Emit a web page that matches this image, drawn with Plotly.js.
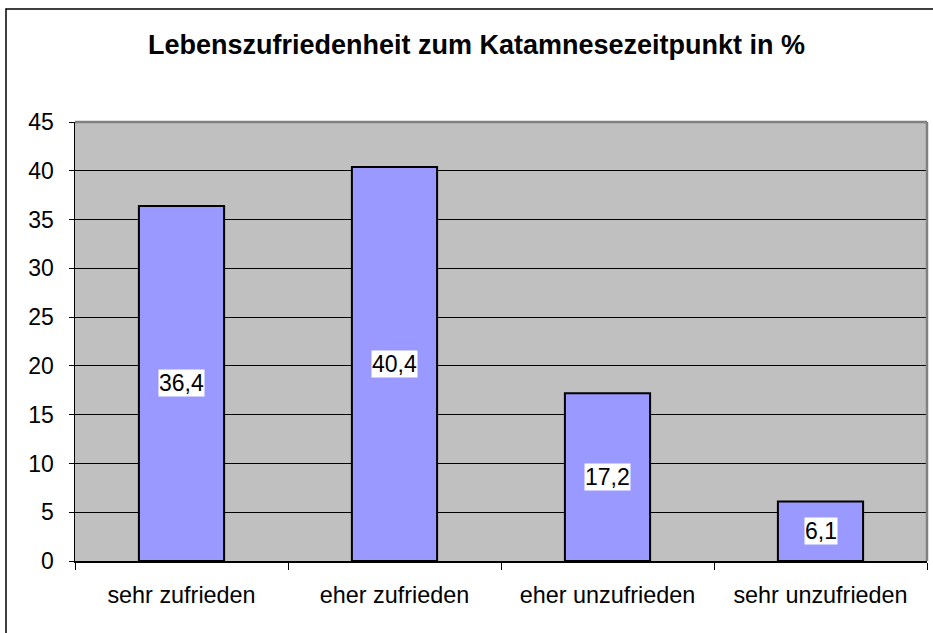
<!DOCTYPE html>
<html>
<head>
<meta charset="utf-8">
<script src="https://cdn.plot.ly/plotly-3.0.1.min.js"></script>
<style>
html,body{margin:0;padding:0;background:#fff;}
#chart{width:933px;height:633px;}
</style>
</head>
<body>
<div id="chart"></div>
<script>
const categories = ["sehr zufrieden", "eher zufrieden", "eher unzufrieden", "sehr unzufrieden"];
const values = [36.4, 40.4, 17.2, 6.1];
const valueLabels = ["36,4", "40,4", "17,2", "6,1"];
const yTicks = [0, 5, 10, 15, 20, 25, 30, 35, 40, 45];

const FONT = "Liberation Sans, Arial, sans-serif";

const trace = {
  type: "bar",
  x: categories,
  y: values,
  width: 0.4,
  marker: {color: "#9999FF", line: {color: "#000000", width: 2}},
  hoverinfo: "none"
};

const annotations = categories.map((c, i) => ({
  x: c, y: values[i] / 2, xref: "x", yref: "y",
  text: valueLabels[i], showarrow: false,
  bgcolor: "#FFFFFF", borderpad: 0,
  font: {family: FONT, size: 23, color: "#000"}
}));

const layout = {
  width: 933, height: 633,
  margin: {l: 75, r: 6, t: 122, b: 72},
  paper_bgcolor: "#FFFFFF",
  plot_bgcolor: "#C0C0C0",
  showlegend: false,
  title: {
    text: "<b>Lebenszufriedenheit zum Katamnesezeitpunkt in %</b>",
    font: {family: FONT, size: 27, color: "#000"},
    x: 476.5 / 933, xref: "container", xanchor: "center",
    y: 1 - 45 / 633, yref: "container", yanchor: "middle"
  },
  xaxis: {
    type: "category",
    tickson: "boundaries",
    ticks: "outside", ticklen: 7, tickcolor: "#000", tickwidth: 1,
    showline: true, linecolor: "#000", linewidth: 1.5,
    showgrid: false, zeroline: false,
    tickfont: {family: FONT, size: 23.4, color: "#000"},
    ticklabelstandoff: 12,
    fixedrange: true
  },
  yaxis: {
    range: [0, 45],
    tickvals: yTicks,
    ticktext: yTicks.map(String),
    ticks: "outside", ticklen: 5, tickcolor: "#000", tickwidth: 1,
    showline: true, linecolor: "#000", linewidth: 1.5,
    showgrid: true, gridcolor: "#000000", gridwidth: 1,
    zeroline: false,
    tickfont: {family: FONT, size: 23, color: "#000"},
    ticklabelstandoff: 10,
    fixedrange: true
  },
  annotations: annotations,
  shapes: [
    {type: "line", xref: "paper", yref: "paper", x0: 0, x1: 1, y0: 1, y1: 1,
     line: {color: "#808080", width: 2.5}, layer: "above"},
    {type: "line", xref: "paper", yref: "paper", x0: 1, x1: 1, y0: 0, y1: 1,
     line: {color: "#808080", width: 2.5}, layer: "above"},
    {type: "rect", xref: "paper", yref: "paper",
     x0: (6 - 75) / 852, x1: 1.2, y0: -0.3, y1: (561 - 9) / 439,
     line: {color: "#000000", width: 1.5}, fillcolor: "rgba(0,0,0,0)", layer: "above"}
  ]
};

Plotly.newPlot("chart", [trace], layout, {displayModeBar: false, staticPlot: true});
</script>
</body>
</html>
